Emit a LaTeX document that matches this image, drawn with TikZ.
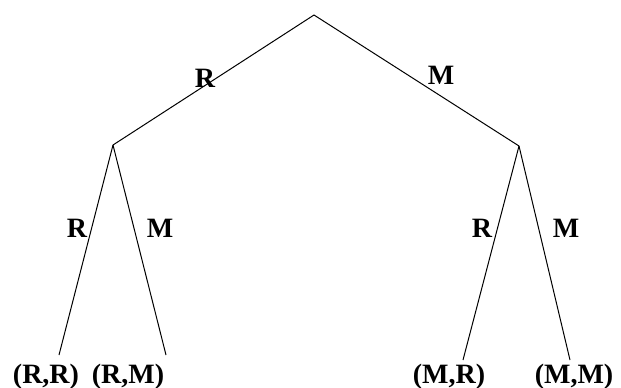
\documentclass[tikz,border=0pt]{standalone}
\usepackage{fontspec}
\setmainfont{Liberation Serif}
\begin{document}
\begin{tikzpicture}[x=1pt,y=-1pt,
  branch/.style={draw=black,line width=1pt},
  lbl/.style={inner sep=0pt,font=\fontsize{28}{30}\selectfont\bfseries},
  leaf/.style={inner sep=0pt,anchor=base,font=\fontsize{28}{30}\selectfont\bfseries}]
\useasboundingbox[fill=white] (0,0) rectangle (621,388);
\coordinate (root) at (314,15);
\coordinate (L) at (113,145);
\coordinate (Rt) at (519,146);
\coordinate (LLe) at (59,355);
\coordinate (LRe) at (166,355);
\coordinate (RLe) at (463,360);
\coordinate (RRe) at (570,360);
\draw[branch] (root) -- (L);
\draw[branch] (root) -- (Rt);
\draw[branch] (L) -- (LLe);
\draw[branch] (L) -- (LRe);
\draw[branch] (Rt) -- (RLe);
\draw[branch] (Rt) -- (RRe);
\node[lbl] (lR) at (205,78) {R};
\node[lbl] (lM) at (441,75) {M};
\node[lbl] (llR) at (77,228) {R};
\node[lbl] (llM) at (160,228) {M};
\node[lbl] (rlR) at (482,228) {R};
\node[lbl] (rlM) at (566,228) {M};
\node[leaf] (RR) at (46,383) {(R,R)};
\node[leaf] (RM) at (128,383) {(R,M)};
\node[leaf] (MR) at (449,383) {(M,R)};
\node[leaf] (MM) at (574,383) {(M,M)};
\end{tikzpicture}
\end{document}
